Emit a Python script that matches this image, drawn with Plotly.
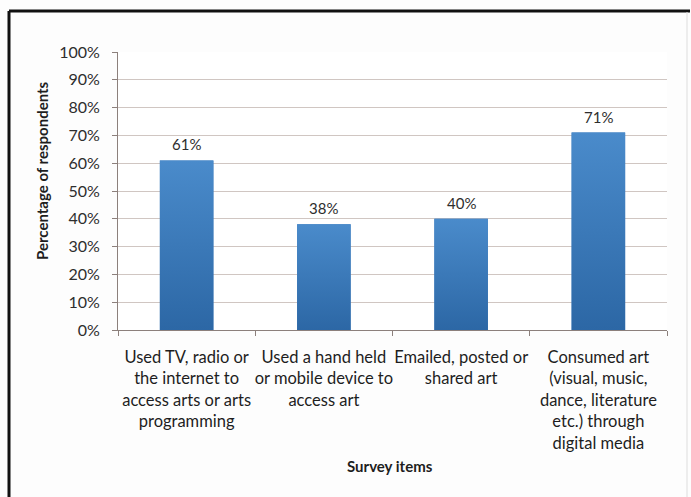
import plotly.graph_objects as go

# Survey results
categories = [
    "Used TV, radio or<br>the internet to<br>access arts or arts<br>programming",
    "Used a hand held<br>or mobile device to<br>access art",
    "Emailed, posted or<br>shared art",
    "Consumed art<br>(visual, music,<br>dance, literature<br>etc.) through<br>digital media",
]
shares = [0.61, 0.38, 0.40, 0.71]
y_ticks = [0, 0.1, 0.2, 0.3, 0.4, 0.5, 0.6, 0.7, 0.8, 0.9, 1.0]

W, H = 691, 497
ML, MR, MT, MB = 118, 24, 52, 167
FONT = "Lato"
AXIS_COL = "#8c807c"
GRID_COL = "#d0c6c2"
BAR_W = 0.39
BAR_TOP = "#4a8bcb"
BAR_BOTTOM = "#2c67a5"

fig = go.Figure(
    go.Bar(
        x=categories,
        y=shares,
        marker=dict(color="#3a78ba", line=dict(width=0)),
        width=BAR_W,
        hoverinfo="skip",
    )
)

# Gradient face for each bar, drawn on a numeric twin of the category axis
for i, v in enumerate(shares):
    x0, x1 = i - BAR_W / 2, i + BAR_W / 2
    fig.add_trace(
        go.Scatter(
            x=[x0, x1, x1, x0, x0],
            y=[0, 0, v, v, 0],
            xaxis="x2",
            mode="lines",
            line=dict(width=0),
            fill="toself",
            fillgradient=dict(
                type="vertical",
                colorscale=[[0, BAR_BOTTOM], [1, BAR_TOP]],
            ),
            hoverinfo="skip",
        )
    )

fig.update_yaxes(
    range=[0, 1],
    tickvals=y_ticks,
    tickformat=".0%",
    showgrid=True,
    gridcolor=GRID_COL,
    gridwidth=1,
    showline=True,
    linecolor=AXIS_COL,
    linewidth=1,
    ticks="outside",
    ticklen=5,
    tickcolor=AXIS_COL,
    ticklabelstandoff=9,
    tickfont=dict(family=FONT, size=16, color="#2e2e2e"),
    zeroline=False,
)
fig.update_xaxes(
    showline=True,
    linecolor=AXIS_COL,
    linewidth=1,
    ticks="outside",
    tickson="boundaries",
    ticklen=5,
    tickcolor=AXIS_COL,
    tickangle=0,
    ticklabelstandoff=12,
    tickfont=dict(family=FONT, size=16.5, color="#1e1e1e"),
    range=[-0.5, len(categories) - 0.5],
)

pw = W - ML - MR
ph = H - MT - MB


def px_x(v):
    return (v - ML) / pw


def px_y(v):
    return (H - MB - v) / ph


# Value labels above each bar
annotations = [
    dict(
        x=c, y=v, xref="x", yref="y", text=f"{round(v * 100)}%",
        showarrow=False, yanchor="bottom", yshift=5,
        font=dict(family=FONT, size=15, color="#2e2e2e"),
    )
    for c, v in zip(categories, shares)
]

annotations += [
    dict(
        text="<b>Survey items</b>",
        x=px_x(390), y=px_y(466), xref="paper", yref="paper",
        xanchor="center", yanchor="middle",
        showarrow=False, font=dict(family=FONT, size=15, color="#1e1e1e"),
    ),
    dict(
        text="<b>Percentage of respondents</b>",
        x=px_x(42), y=px_y(171), xref="paper", yref="paper",
        xanchor="center", yanchor="middle",
        textangle=-90, showarrow=False,
        font=dict(family=FONT, size=15, color="#1e1e1e"),
    ),
]

# Outer frame: heavy top/left edges, light right edge
shapes = [
    dict(type="line", xref="paper", yref="paper",
         x0=px_x(9), x1=px_x(690), y0=px_y(11), y1=px_y(11),
         line=dict(color="#111111", width=3)),
    dict(type="line", xref="paper", yref="paper",
         x0=px_x(9), x1=px_x(9), y0=px_y(11), y1=px_y(497),
         line=dict(color="#111111", width=3)),
    dict(type="line", xref="paper", yref="paper",
         x0=px_x(687), x1=px_x(687), y0=px_y(12), y1=px_y(497),
         line=dict(color="#dddddd", width=1)),
]

fig.update_layout(
    width=W,
    height=H,
    margin=dict(l=ML, r=MR, t=MT, b=MB, autoexpand=False),
    plot_bgcolor="white",
    paper_bgcolor="#fdfdfd",
    showlegend=False,
    bargap=0.61,
    xaxis2=dict(
        overlaying="x",
        range=[-0.5, len(categories) - 0.5],
        visible=False,
        fixedrange=True,
    ),
    annotations=annotations,
    shapes=shapes,
    font=dict(family=FONT),
)

fig.write_html("out.html")
